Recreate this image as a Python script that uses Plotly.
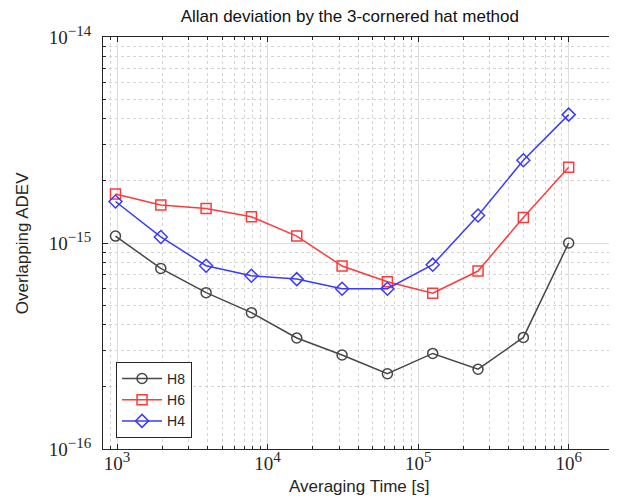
import numpy as np
import plotly.graph_objects as go

tau = [976.5625, 1953.125, 3906.25, 7812.5, 15625, 31250, 62500, 125000, 250000, 500000, 1000000]
h8 = [1.08e-15, 7.53e-16, 5.74e-16, 4.59e-16, 3.46e-16, 2.86e-16, 2.32e-16, 2.91e-16, 2.44e-16, 3.48e-16, 1.0e-15]
h6 = [1.73e-15, 1.53e-15, 1.47e-15, 1.34e-15, 1.08e-15, 7.73e-16, 6.49e-16, 5.70e-16, 7.31e-16, 1.33e-15, 2.33e-15]
h4 = [1.59e-15, 1.07e-15, 7.76e-16, 6.93e-16, 6.68e-16, 6.0e-16, 6.0e-16, 7.85e-16, 1.36e-15, 2.52e-15, 4.2e-15]

series = [("H8", h8, "#474747", "circle-open"),
          ("H6", h6, "#ff3a3a", "square-open"),
          ("H4", h4, "#3a3aff", "diamond-open")]

SUP = "<sup><span style='font-size:15px'>{}</span></sup>"
xticks = [1e3, 1e4, 1e5, 1e6]
xticktext = ["10" + SUP.format(e) for e in ["3", "4", "5", "6"]]
yticks = [1e-16, 1e-15, 1e-14]
yticktext = ["10" + SUP.format(e) for e in ["−16", "−15", "−14"]]

xminor = [m * 10 ** e for e in range(2, 7) for m in range(2, 10)]
yminor = [m * 10.0 ** e for e in range(-17, -13) for m in range(2, 10)]

fig = go.Figure()
for name, vals, col, sym in series:
    fig.add_trace(go.Scatter(x=tau, y=vals, name=name, mode="lines+markers",
                             line=dict(color=col, width=1.5),
                             marker=dict(symbol=sym, size=10, color=col, line=dict(width=1.5, color=col))))

def axis_common(minor_vals):
    return dict(type="log", showline=True, linecolor="#262626", linewidth=1, mirror="allticks",
                ticks="inside", ticklen=5, tickcolor="#262626", automargin=False,
                showgrid=True, gridcolor="#dcdcdc", gridwidth=1, zeroline=False,
                tickfont=dict(family="Liberation Serif", size=19, color="#262626"),
                minor=dict(tickmode="array", tickvals=minor_vals, ticks="inside", ticklen=3,
                           tickcolor="#262626", showgrid=True,
                           gridcolor="#d4d4d4", griddash="dot", gridwidth=1))

fig.update_xaxes(**axis_common(xminor), range=[np.log10(807), np.log10(2.0e6)],
                 tickvals=xticks, ticktext=xticktext, ticklabelstandoff=-3)
fig.update_yaxes(**axis_common(yminor), range=[-16, -14],
                 tickvals=yticks, ticktext=yticktext, ticklabelstandoff=7)

fig.add_annotation(text="Averaging Time [s]", xref="paper", yref="paper", x=0.5, y=-0.092,
                   xanchor="center", yanchor="middle", showarrow=False,
                   font=dict(family="Liberation Sans", size=17, color="#262626"))
fig.add_annotation(text="Overlapping ADEV", xref="paper", yref="paper", x=-0.158, y=0.5,
                   xanchor="center", yanchor="middle", showarrow=False, textangle=-90,
                   font=dict(family="Liberation Sans", size=17, color="#262626"))

fig.update_layout(
    width=617, height=499,
    margin=dict(l=95, r=11, t=29, b=58),
    paper_bgcolor="white", plot_bgcolor="white",
    title=dict(text="Allan deviation by the 3-cornered hat method", x=0.483, xref="paper", xanchor="center",
               y=0.996, yanchor="top", pad=dict(t=0),
               font=dict(family="Liberation Sans", size=17, color="#111111")),
    legend=dict(x=0.0255, y=0.027, xanchor="left", yanchor="bottom", bgcolor="white",
                bordercolor="#262626", borderwidth=1, font=dict(family="Liberation Sans", size=14, color="#262626"),
                tracegroupgap=0, itemwidth=40),
    showlegend=True,
)

fig.write_html("out.html")
